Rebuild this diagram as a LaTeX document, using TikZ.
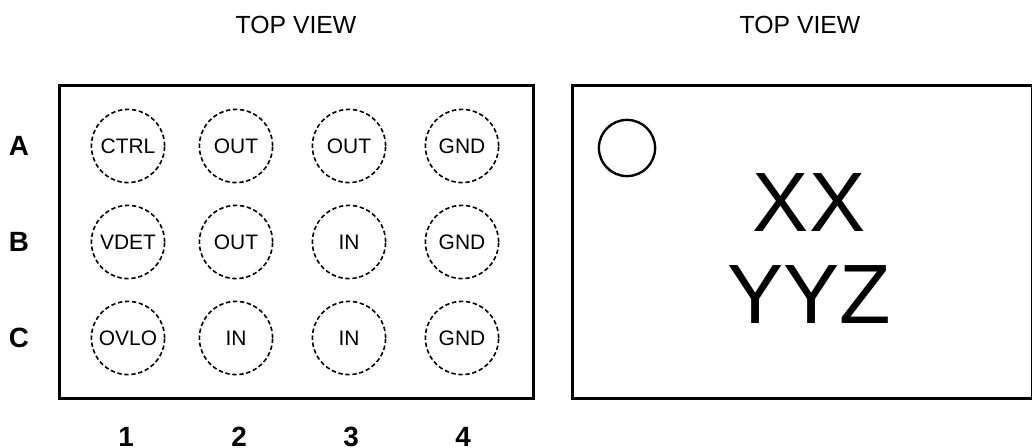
\documentclass[tikz,border=0pt]{standalone}
\usepackage{fontspec}
\setmainfont{Liberation Sans}
\tikzset{
  pad/.style={circle,draw,dash pattern=on 3.3pt off 2pt,line width=1.2pt,minimum size=1.94cm,inner sep=0pt,font=\fontsize{15.8}{17}\selectfont},
  rowname/.style={font=\fontsize{21}{22}\selectfont\bfseries},
  viewname/.style={font=\fontsize{18.7}{20}\selectfont},
  mark text/.style={font=\fontsize{63.5}{66}\selectfont},
  package/.style={line width=2.1pt}
}
\begin{document}
\begin{tikzpicture}[x=0.0265cm,y=-0.0265cm]
  \useasboundingbox (0,0) rectangle (1032,448);
  \node[viewname] (view1) at (296,25) {TOP VIEW};
  \node[viewname] (view2) at (800,25) {TOP VIEW};
  \draw[package] (59.5,85.5) rectangle (533.5,398.5);
  \draw[package] (572.5,85.5) rectangle (1032,398.5);
  \node[rowname] (A) at (19,146) {A};
  \node[rowname] (B) at (19,242) {B};
  \node[rowname] (C) at (19,338) {C};
  \node[rowname] (n1) at (126,437) {1};
  \node[rowname] (n2) at (239,437) {2};
  \node[rowname] (n3) at (351,437) {3};
  \node[rowname] (n4) at (463,437) {4};
  \node[pad] (a1) at (128,146) {CTRL};
  \node[pad] (a2) at (236,146) {OUT};
  \node[pad] (a3) at (349,146) {OUT};
  \node[pad] (a4) at (462,146) {GND};
  \node[pad] (b1) at (128,242) {VDET};
  \node[pad] (b2) at (236,242) {OUT};
  \node[pad] (b3) at (349,242) {IN};
  \node[pad] (b4) at (462,242) {GND};
  \node[pad] (c1) at (128,338) {OVLO};
  \node[pad] (c2) at (236,338) {IN};
  \node[pad] (c3) at (349,338) {IN};
  \node[pad] (c4) at (462,338) {GND};
  \node[circle,draw,line width=1.8pt,minimum size=1.49cm,inner sep=0pt] (dot) at (627,148) {};
  \node[mark text] (xx) at (809,203) {XX};
  \node[mark text] (yyz) at (809,295) {YYZ};
\end{tikzpicture}
\end{document}
